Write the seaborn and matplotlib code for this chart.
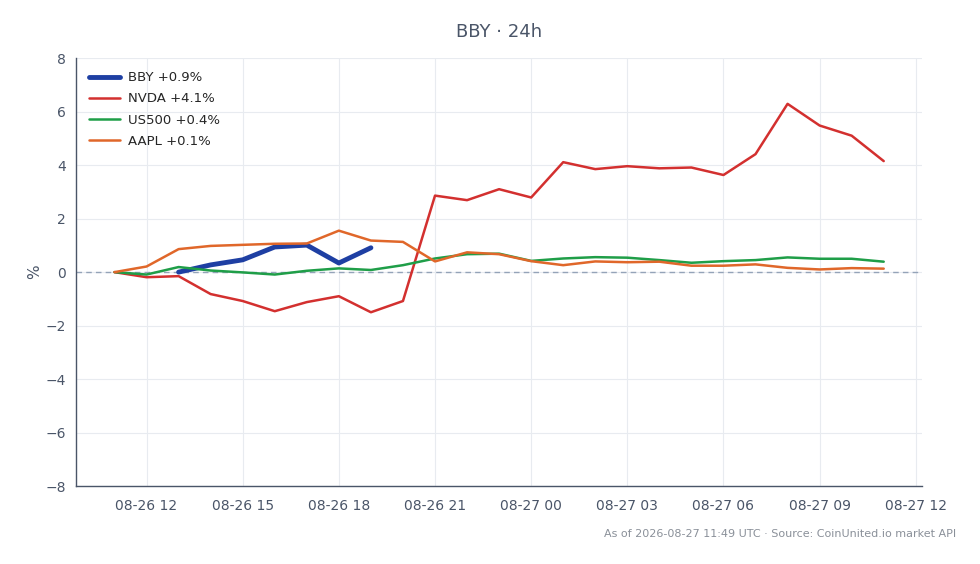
import pandas as pd
import numpy as np
import matplotlib
matplotlib.use('Agg')
import matplotlib.pyplot as plt
import matplotlib.dates as mdates
import seaborn as sns

# hourly points, 08-26 11:00 -> 08-27 11:00 UTC
times = pd.date_range('2026-08-26 11:00', '2026-08-27 11:00', freq='h')

bby = [np.nan, np.nan, 0.0, 0.27, 0.46, 0.94, 1.01, 0.34, 0.91,
       np.nan, np.nan, np.nan, np.nan, np.nan, np.nan, np.nan, np.nan,
       np.nan, np.nan, np.nan, np.nan, np.nan, np.nan, np.nan, np.nan]
nvda = [0.0, -0.19, -0.15, -0.82, -1.08, -1.46, -1.12, -0.9, -1.5, -1.08,
        2.86, 2.69, 3.1, 2.79, 4.11, 3.85, 3.96, 3.88, 3.91, 3.63,
        4.41, 6.29, 5.48, 5.1, 4.15]
us500 = [0.0, -0.09, 0.19, 0.06, -0.01, -0.09, 0.05, 0.14, 0.08, 0.26,
         0.51, 0.67, 0.69, 0.42, 0.51, 0.56, 0.54, 0.45, 0.35, 0.41,
         0.45, 0.55, 0.5, 0.5, 0.39]
aapl = [0.0, 0.21, 0.86, 0.98, 1.02, 1.06, 1.07, 1.55, 1.18, 1.13,
        0.4, 0.74, 0.67, 0.41, 0.26, 0.4, 0.37, 0.39, 0.24, 0.24,
        0.29, 0.16, 0.1, 0.15, 0.13]

labels = ['BBY +0.9%', 'NVDA +4.1%', 'US500 +0.4%', 'AAPL +0.1%']
colors = ['#1e3fa3', '#d3302f', '#1f9e48', '#e0672a']
widths = [3.5, 1.8, 1.8, 1.8]

sns.set_style('white')
plt.rcParams['font.family'] = ['DejaVu Sans']
ink = '#4a5568'

fig = plt.figure(figsize=(9.8, 5.64), dpi=100)
ax = fig.add_axes([0.0776, 0.138, 0.8634, 0.759])

ax.axhline(0, color='#94a3b8', lw=1, ls='--', dashes=(4, 3), zorder=1)

for vals, lab, c, w in zip([bby, nvda, us500, aapl], labels, colors, widths):
    df = pd.DataFrame({'time': times, 'pct': vals})
    sns.lineplot(data=df, x='time', y='pct', ax=ax, color=c, lw=w, label=lab, zorder=3)

ax.set_ylim(-8, 8)
ax.set_yticks(range(-8, 9, 2))
ax.xaxis.set_major_locator(mdates.HourLocator(byhour=[0, 3, 6, 9, 12, 15, 18, 21]))
ax.xaxis.set_major_formatter(mdates.DateFormatter('%m-%d %H'))
ax.grid(True, color='#e8ebf0', lw=0.8)
ax.set_axisbelow(True)

for s in ['top', 'right']:
    ax.spines[s].set_visible(False)
for s in ['left', 'bottom']:
    ax.spines[s].set_color(ink)
    ax.spines[s].set_linewidth(1.0)
ax.tick_params(axis='both', colors=ink, labelsize=10, length=4, width=1, direction='out')
ax.tick_params(axis='x', pad=5)

ax.set_xlabel('')
ax.set_ylabel('%', color=ink, fontsize=11, labelpad=2)
ax.set_title('BBY · 24h', color=ink, fontsize=13, pad=15)

leg = ax.legend(loc='upper left', frameon=False, fontsize=9.5, handlelength=2.3,
                handletextpad=0.6, borderaxespad=0.6, labelspacing=0.62)

fig.text(0.976, 0.045, 'As of 2026-08-27 11:49 UTC · Source: CoinUnited.io market API',
         ha='right', va='bottom', fontsize=8, color='#8a9099')

fig.savefig('out.png', dpi=100)
